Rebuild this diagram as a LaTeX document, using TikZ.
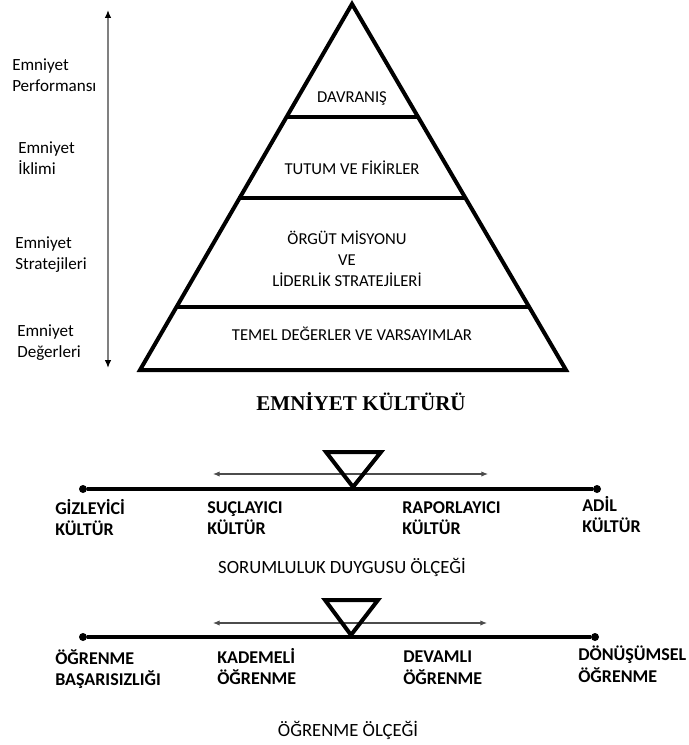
\documentclass[tikz,border=0pt]{standalone}
\usepackage{fontspec}
\setmainfont{Carlito}
\newfontfamily\titlefont{Liberation Serif}
\usetikzlibrary{arrows.meta}
\begin{document}
\begin{tikzpicture}[x=0.75pt,y=-0.75pt,
  pyr/.style={line width=3pt,line join=miter},
  divline/.style={line width=2.4pt},
  layertext/.style={font=\fontsize{12.5}{15.75}\selectfont,align=center,inner sep=0pt,text=black},
  sidelabel/.style={font=\fontsize{12.8}{15.75}\selectfont,align=left,anchor=north west,inner sep=0pt,text=black},
  scalelabel/.style={font=\bfseries\fontsize{13.5}{16}\selectfont,align=left,anchor=north west,inner sep=0pt,text=black},
  scaletitle/.style={font=\fontsize{14}{16}\selectfont,inner sep=0pt,text=black},
  scaleaxis/.style={line width=3pt},
  triang/.style={line width=3pt,line join=miter},
  rangearrow/.style={line width=0.8pt,black!70,{Latex[length=5pt,width=4pt]}-{Latex[length=5pt,width=4pt]}},
  enddot/.style={circle,fill=black,inner sep=0pt,minimum size=6pt},
  sidearrow/.style={line width=1.1pt,black!50,{Latex[length=6pt,width=5pt,fill=black,color=black]}-{Latex[length=6pt,width=5pt,fill=black,color=black]}}
]
\useasboundingbox (0,0) rectangle (688,745);

% ---- side arrow and labels
\coordinate (st) at (108,10);
\coordinate (sb) at (108,368);
\draw[sidearrow] (st) -- (sb);
\node[sidelabel] (perf) at (12,58) {Emniyet\\Performansı};
\node[sidelabel] (iklim) at (18,141) {Emniyet\\İklimi};
\node[sidelabel] (strat) at (15,236) {Emniyet\\Stratejileri};
\node[sidelabel] (deger) at (17,324) {Emniyet\\Değerleri};

% ---- pyramid
\coordinate (apex) at (352,4);
\coordinate (bl) at (140,370);
\coordinate (br) at (566,370);
\draw[pyr] (apex) -- (bl) -- (br) -- cycle;
\draw[divline] (286,117) -- (418,117);
\draw[divline] (238,198) -- (465,198);
\draw[divline] (175,307) -- (528,307);

\node[layertext] (l1) at (352,98) {DAVRANIŞ};
\node[layertext] (l2) at (352,168) {TUTUM VE FİKİRLER};
\node[layertext] (l3) at (347,259) {ÖRGÜT MİSYONU\\VE\\LİDERLİK STRATEJİLERİ};
\node[layertext] (l4) at (352,334) {TEMEL DEĞERLER VE VARSAYIMLAR};

\node[inner sep=0pt,font=\titlefont\bfseries\fontsize{15.8}{18}\selectfont] (title) at (361,402) {EMNİYET KÜLTÜRÜ};

% ---- scale 1
\node[enddot] (a1) at (83,489) {};
\node[enddot] (b1) at (597,489) {};
\draw[scaleaxis] (a1) -- (b1);
\coordinate (r1l) at (213,474);
\coordinate (r1r) at (488,474);
\draw[rangearrow] (r1l) -- (r1r);
\coordinate (t1a) at (326,452);
\coordinate (t1b) at (381,452);
\coordinate (t1c) at (353,487);
\draw[triang] (t1a) -- (t1b) -- (t1c) -- cycle;

\node[scalelabel] (gizl) at (55,499) {GİZLEYİCİ\\KÜLTÜR};
\node[scalelabel] (sucl) at (207,501) {SUÇLAYICI\\KÜLTÜR};
\node[scalelabel] (rapo) at (402,501) {RAPORLAYICI\\KÜLTÜR};
\node[scalelabel] (adil) at (582,496) {ADİL\\KÜLTÜR};
\node[scaletitle] (sorum) at (342,567) {SORUMLULUK DUYGUSU ÖLÇEĞİ};

% ---- scale 2
\node[enddot] (a2) at (83,637) {};
\node[enddot] (b2) at (595,637) {};
\draw[scaleaxis] (a2) -- (b2);
\coordinate (r2l) at (213,623);
\coordinate (r2r) at (487,623);
\draw[rangearrow] (r2l) -- (r2r);
\coordinate (t2a) at (325,600);
\coordinate (t2b) at (378,600);
\coordinate (t2c) at (351,635);
\draw[triang] (t2a) -- (t2b) -- (t2c) -- cycle;

\node[scalelabel] (ogbs) at (55,649) {ÖĞRENME\\BAŞARISIZLIĞI};
\node[scalelabel] (kade) at (217,648) {KADEMELİ\\ÖĞRENME};
\node[scalelabel] (deva) at (403,651) {DEVAMLI\\ÖĞRENME};
\node[scalelabel] (donu) at (578,646) {DÖNÜŞÜMSEL\\ÖĞRENME};
\node[scaletitle] (ogol) at (348,730) {ÖĞRENME ÖLÇEĞİ};
\end{tikzpicture}
\end{document}
